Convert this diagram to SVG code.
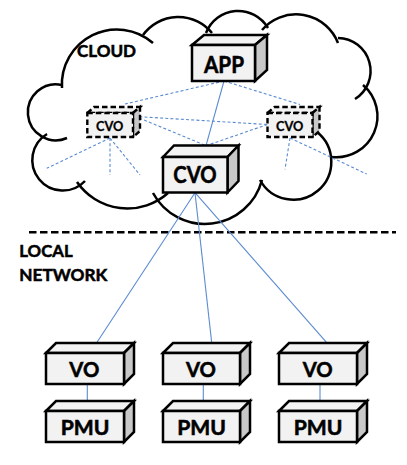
<svg xmlns="http://www.w3.org/2000/svg" width="407" height="465" viewBox="0 0 407 465">
<style>
.cloud{fill:none;stroke:#000;stroke-width:2.5;stroke-linecap:butt}
.front{fill:#f2f2f2;stroke:#000;stroke-width:2.5;stroke-linejoin:miter}
.top{fill:#f2f2f2;stroke:#000;stroke-width:2.5;stroke-linejoin:miter}
.side{fill:#c8c8c8;stroke:#000;stroke-width:2.5;stroke-linejoin:miter}
.dash .front,.dash .top,.dash .side{stroke-dasharray:5.5 3;stroke-width:2.4}
.lbl{font-family:Lato,"Liberation Sans",sans-serif;font-weight:bold;fill:#000;stroke:#000;stroke-width:0.55}
.solid{stroke:#5b8bd0;stroke-width:1.1;fill:none}
.dotted{stroke:#5b8bd0;stroke-width:1.1;fill:none;stroke-dasharray:3 2.2}
.sep{stroke:#000;stroke-width:2.5;stroke-dasharray:7.5 3.5;fill:none}
</style>
<rect width="407" height="465" fill="#fff"/>
<g id="cloud">
<path class="cloud" d="M62,88 A55,55 0 0 1 153,43"/>
<path class="cloud" d="M143,35 A43.5,43.5 0 0 1 212,33"/>
<path class="cloud" d="M206,33 A34.5,34.5 0 0 1 268,28"/>
<path class="cloud" d="M262,30 A45,45 0 0 1 338,43"/>
<path class="cloud" d="M338,38 A33,33 0 0 1 355,99"/>
<path class="cloud" d="M363,85 A41,41 0 0 1 332,157"/>
<path class="cloud" d="M317,132 A38,38 0 1 1 260,180"/>
<path class="cloud" d="M262,180 A59,59 0 0 1 153,193"/>
<path class="cloud" d="M77,182 A61,61 0 0 0 168,193"/>
<path class="cloud" d="M47,134 A30.5,30.5 0 1 0 85,181"/>
<path class="cloud" d="M62,85 A28,28 0 1 0 67,138"/>
<text class="lbl" x="77" y="57" font-size="17.4" textLength="59" lengthAdjust="spacingAndGlyphs">CLOUD</text>
</g>
<g id="separator">
<line class="sep" x1="29" y1="232.3" x2="396" y2="232.3"/>
<text class="lbl" x="19.3" y="256.7" font-size="17.7" textLength="53.3" lengthAdjust="spacingAndGlyphs">LOCAL</text>
<text class="lbl" x="19.3" y="281" font-size="17.7" textLength="88" lengthAdjust="spacingAndGlyphs">NETWORK</text>
</g>
<g id="connectors">
<line class="solid" x1="224" y1="81" x2="206" y2="145.7"/>
<line class="dotted" x1="224" y1="81" x2="125" y2="104"/>
<line class="dotted" x1="224" y1="81" x2="300" y2="104.5"/>
<line class="dotted" x1="139.3" y1="116.7" x2="267.5" y2="124.5"/>
<line class="dotted" x1="139.3" y1="118" x2="206" y2="145.7"/>
<line class="dotted" x1="267.5" y1="124.5" x2="206" y2="145.7"/>
<line class="dotted" x1="110" y1="138" x2="46.7" y2="168.3"/>
<line class="dotted" x1="110" y1="138" x2="110" y2="175"/>
<line class="dotted" x1="110" y1="138" x2="140" y2="175"/>
<line class="dotted" x1="290" y1="138" x2="285" y2="169.3"/>
<line class="dotted" x1="290" y1="138" x2="366.7" y2="174"/>
<line class="solid" x1="195" y1="192.7" x2="96.7" y2="342.7"/>
<line class="solid" x1="195" y1="192.7" x2="211.7" y2="342.7"/>
<line class="solid" x1="195" y1="192.7" x2="326.7" y2="342.7"/>
<line class="solid" x1="87.3" y1="384" x2="87.3" y2="401"/>
<line class="solid" x1="203.3" y1="384" x2="203.3" y2="401"/>
<line class="solid" x1="320" y1="384" x2="320" y2="401"/>
</g>
<g id="app">
<polygon class="top" points="192,45 204,35 267,35 255,45"/>
<polygon class="side" points="255,45 267,35 267,70 255,81"/>
<rect class="front" x="192" y="45" width="63" height="36"/>
<text class="lbl" x="204" y="72.7" font-size="22.3" textLength="40" lengthAdjust="spacingAndGlyphs">APP</text>
</g>
<g id="cvo-main">
<polygon class="top" points="163,157 174,145.5 238.5,145.5 227.5,157"/>
<polygon class="side" points="227.5,157 238.5,145.5 238.5,181 227.5,192.5"/>
<rect class="front" x="163" y="157" width="64.5" height="35.5"/>
<text class="lbl" x="173.3" y="183.3" font-size="23" textLength="43.3" lengthAdjust="spacingAndGlyphs">CVO</text>
</g>
<g id="cvo-left" class="dash">
<polygon class="top" points="87.3,113 94,107 140,107 133,113"/>
<polygon class="side" points="133,113 140,107 140,131 133,137"/>
<rect class="front" x="87.3" y="113" width="45.7" height="24"/>
<text class="lbl" x="96" y="130.7" font-size="14" textLength="27.3" lengthAdjust="spacingAndGlyphs" style="stroke-width:0.3">CVO</text>
</g>
<g id="cvo-right" class="dash">
<polygon class="top" points="267.5,113 274.5,107 319.5,107 312.5,113"/>
<polygon class="side" points="312.5,113 319.5,107 319.5,131 312.5,137"/>
<rect class="front" x="267.5" y="113" width="45" height="24"/>
<text class="lbl" x="276" y="130.7" font-size="14" textLength="27.3" lengthAdjust="spacingAndGlyphs" style="stroke-width:0.3">CVO</text>
</g>
<g id="vo1">
<polygon class="top" points="46,353 56,343 134,343 124,353"/>
<polygon class="side" points="124,353 134,343 134,374 124,384"/>
<rect class="front" x="46" y="353" width="78" height="31"/>
<text class="lbl" x="69.3" y="376.7" font-size="21" textLength="30" lengthAdjust="spacingAndGlyphs">VO</text>
</g>
<g id="vo2">
<polygon class="top" points="163,353 173,343 250,343 240,353"/>
<polygon class="side" points="240,353 250,343 250,374 240,384"/>
<rect class="front" x="163" y="353" width="77" height="31"/>
<text class="lbl" x="186" y="376.7" font-size="21" textLength="30" lengthAdjust="spacingAndGlyphs">VO</text>
</g>
<g id="vo3">
<polygon class="top" points="279,353 289,343 367,343 357,353"/>
<polygon class="side" points="357,353 367,343 367,374 357,384"/>
<rect class="front" x="279" y="353" width="78" height="31"/>
<text class="lbl" x="302.7" y="376.7" font-size="21" textLength="30" lengthAdjust="spacingAndGlyphs">VO</text>
</g>
<g id="pmu1">
<polygon class="top" points="46,411 56,401 134,401 124,411"/>
<polygon class="side" points="124,411 134,401 134,432 124,442"/>
<rect class="front" x="46" y="411" width="78" height="31"/>
<text class="lbl" x="60.7" y="435" font-size="21" textLength="48.7" lengthAdjust="spacingAndGlyphs">PMU</text>
</g>
<g id="pmu2">
<polygon class="top" points="163,411 173,401 250,401 240,411"/>
<polygon class="side" points="240,411 250,401 250,432 240,442"/>
<rect class="front" x="163" y="411" width="77" height="31"/>
<text class="lbl" x="177.3" y="435" font-size="21" textLength="48.7" lengthAdjust="spacingAndGlyphs">PMU</text>
</g>
<g id="pmu3">
<polygon class="top" points="279,411 289,401 367,401 357,411"/>
<polygon class="side" points="357,411 367,401 367,432 357,442"/>
<rect class="front" x="279" y="411" width="78" height="31"/>
<text class="lbl" x="293.7" y="435" font-size="21" textLength="48.7" lengthAdjust="spacingAndGlyphs">PMU</text>
</g>
</svg>
